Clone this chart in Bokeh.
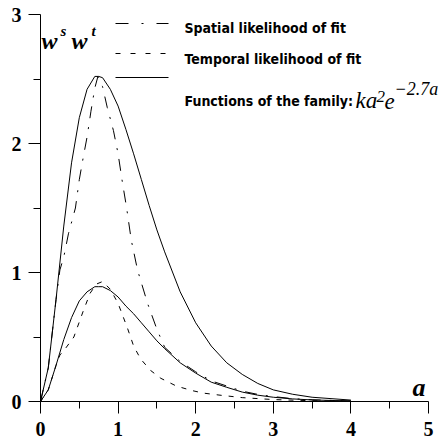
from bokeh.plotting import figure
from bokeh.models import Range1d, FixedTicker, Label
from bokeh.embed import file_html
from bokeh.resources import INLINE

# ---- data ----
a_fit = [0, 0.1, 0.2, 0.3, 0.4, 0.5, 0.6, 0.7, 0.75, 0.8, 0.9, 1.0, 1.1, 1.2, 1.3,
         1.4, 1.5, 1.6, 1.8, 2.0, 2.2, 2.4, 2.6, 2.8, 3.0, 3.25, 3.5, 4.0]
fit_upper = [0, 0.26, 0.79, 1.36, 1.85, 2.20, 2.42, 2.52, 2.52, 2.51, 2.42, 2.29, 2.11,
             1.92, 1.72, 1.52, 1.33, 1.16, 0.85, 0.61, 0.43, 0.30, 0.21, 0.14, 0.09,
             0.056, 0.033, 0.011]
fit_lower = [0, 0.09, 0.28, 0.48, 0.65, 0.78, 0.85, 0.89, 0.89, 0.89, 0.86, 0.81, 0.74,
             0.68, 0.61, 0.54, 0.47, 0.41, 0.30, 0.22, 0.15, 0.11, 0.073, 0.049, 0.033,
             0.020, 0.012, 0.004]

a_spatial = [0, 0.1, 0.2, 0.25, 0.3, 0.36, 0.45, 0.5, 0.55, 0.6, 0.65, 0.7, 0.74, 0.8,
             0.86, 0.94, 1.0, 1.05, 1.11, 1.17, 1.25, 1.38, 1.5, 1.6, 1.8, 2.0, 2.2,
             2.4, 2.6, 2.8, 3.0, 3.25, 3.5, 4.0]
spatial = [0, 0.26, 0.79, 1.02, 1.12, 1.30, 1.50, 1.72, 1.89, 2.05, 2.25, 2.43, 2.52,
           2.44, 2.28, 2.10, 1.92, 1.72, 1.50, 1.25, 1.02, 0.76, 0.56, 0.42, 0.31, 0.23,
           0.16, 0.12, 0.08, 0.055, 0.038, 0.022, 0.013, 0.004]

a_temporal = [0, 0.1, 0.2, 0.25, 0.32, 0.43, 0.55, 0.64, 0.72, 0.8, 0.9, 1.0, 1.12,
              1.2, 1.29, 1.42, 1.55, 1.75, 1.95, 2.1, 2.3, 2.6, 3.0, 3.5, 4.0]
temporal = [0, 0.09, 0.28, 0.36, 0.41, 0.50, 0.70, 0.84, 0.91, 0.93, 0.87, 0.76, 0.57,
            0.43, 0.33, 0.24, 0.18, 0.12, 0.085, 0.065, 0.05, 0.03, 0.015, 0.006, 0.002]

x_ticks = [0, 1, 2, 3, 4, 5]
x_minor = [0.5, 1.5, 2.5, 3.5, 4.5]
y_ticks = [0, 1, 2, 3]
y_minor = [0.5, 1.5, 2.5]

legend_labels = ["Spatial likelihood of fit", "Temporal likelihood of fit",
                 "Functions of the family:"]

# ---- layout helpers (pixel -> data) ----
def X(px):
    return (px - 40) / 77.6

def Y(py):
    return (401 - py) / 129.0

p = figure(width=444, height=445, x_range=Range1d(0, X(444)), y_range=Range1d(0, 3),
           output_backend="svg", toolbar_location=None,
           min_border_left=40, min_border_right=0, min_border_top=14, min_border_bottom=44)
p.outline_line_color = None
p.grid.visible = False
p.background_fill_color = "white"
p.border_fill_color = "white"

p.xaxis.ticker = FixedTicker(ticks=x_ticks, minor_ticks=x_minor)
p.yaxis.ticker = FixedTicker(ticks=y_ticks, minor_ticks=y_minor)
p.xaxis.bounds = (0, 5)
for ax in (p.xaxis, p.yaxis):
    ax.axis_line_color = "black"
    ax.axis_line_width = 1
    ax.major_tick_line_color = "black"
    ax.minor_tick_line_color = "black"
    ax.major_tick_in = 0
    ax.major_tick_out = 12
    ax.minor_tick_in = 0
    ax.minor_tick_out = 7
    ax.major_label_text_font = "Liberation Serif"
    ax.major_label_text_font_style = "bold"
    ax.major_label_text_font_size = "20px"
    ax.major_label_text_color = "black"
p.xaxis.major_label_standoff = 8
p.yaxis.major_label_standoff = 7

DASHDOT = "12 9 2 9"
DASHED = "5 7"

p.line(a_fit, fit_upper, line_color="black", line_width=1)
p.line(a_fit, fit_lower, line_color="black", line_width=1)
p.line(a_spatial, spatial, line_color="black", line_width=1, line_dash=DASHDOT)
p.line(a_temporal, temporal, line_color="black", line_width=1, line_dash=DASHED)

# legend
p.segment(x0=[X(115)], y0=[Y(23)], x1=[X(168)], y1=[Y(23)], line_color="black",
          line_width=1, line_dash="13 13 2 13")
p.segment(x0=[X(115)], y0=[Y(53)], x1=[X(168)], y1=[Y(53)], line_color="black",
          line_width=1, line_dash="5 10")
p.segment(x0=[X(115)], y0=[Y(77)], x1=[X(168)], y1=[Y(77)], line_color="black",
          line_width=1)

NARROW = "Liberation Sans Narrow, DejaVu Sans Condensed, sans-serif"


def lab(px, py, text, font, size, style="normal"):
    p.add_layout(Label(x=X(px), y=Y(py), text=text, text_font=font,
                       text_font_size=size, text_font_style=style,
                       text_color="black", text_align="left",
                       text_baseline="alphabetic"))


for lbl, base in zip(legend_labels, [27, 58, 100]):
    lab(184, base, lbl, NARROW, "14px", "bold")

SERIF = "Liberation Serif"
lab(355, 100, "ka", SERIF, "23px", "italic")
lab(376, 96, "2", SERIF, "17px", "italic")
lab(384, 101, "e", SERIF, "23px", "italic")
lab(394, 88, "\u22122.7a", SERIF, "18px", "italic")

lab(41, 40, "w", SERIF, "24px", "bold italic")
lab(60, 30, "s", SERIF, "15px", "bold italic")
lab(71, 40, "w", SERIF, "24px", "bold italic")
lab(91, 30, "t", SERIF, "15px", "bold italic")
lab(412, 387, "a", SERIF, "26px", "bold italic")

open("out.html", "w").write(file_html(p, INLINE))
